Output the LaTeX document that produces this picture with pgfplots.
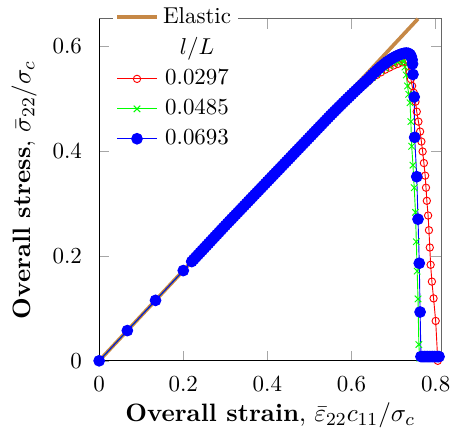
\documentclass[border=0pt]{standalone}
\usepackage{pgfplots}
\pgfplotsset{compat=1.18}
\definecolor{elastic}{RGB}{198,136,70}
\begin{document}
\begin{tikzpicture}
\begin{axis}[
  scale only axis,
  width=149pt, height=149pt,
  xmin=0, xmax=0.813, ymin=0, ymax=0.652,
  xtick={0,0.2,0.4,0.6,0.8},
  ytick={0,0.2,0.4,0.6},
  xticklabels={0,0.2,0.4,0.6,0.8},
  yticklabels={0,0.2,0.4,0.6},
  xticklabel shift=3pt, yticklabel shift=4pt,
  axis line style={black!60},
  major tick style={black!35},
  tick align=inside,
  clip=false,
  label style={font=\fontsize{10.95}{13.6}\selectfont},
  xlabel style={yshift=2pt},
  xlabel={\textbf{Overall strain}, $\bar{\varepsilon}_{22}c_{11}/\sigma_c$},
  ylabel={\textbf{Overall stress}, $\bar{\sigma}_{22}/\sigma_c$},
  legend cell align=center,
  legend style={at={(0.04,1.055)}, anchor=north west, draw=none, fill=white, inner sep=1pt, row sep=0.8pt},
]
\path ([xshift=-43.2pt,yshift=-31.3pt]rel axis cs:0,0) ([xshift=4.5pt,yshift=8.2pt]rel axis cs:1,1);
\draw[black] (rel axis cs:0,1) -- (rel axis cs:0,0) -- (rel axis cs:1,0);
\addplot[elastic, line width=1.6pt, mark=none] coordinates {(0,0) (0.758,0.652)};
\addlegendentry{Elastic}
\addlegendimage{empty legend}
\addlegendentry{$l/L$}
\addplot[red, mark=o, mark size=1.6pt, mark options={solid}] coordinates {
(0,0) (0.067,0.0576) (0.134,0.1152) (0.2,0.172)
(0.22,0.1892) (0.23,0.1978) (0.24,0.2064) (0.25,0.215) (0.26,0.2236) (0.27,0.2322) (0.28,0.2408) (0.29,0.2494)
(0.30,0.258) (0.31,0.2664) (0.32,0.2748) (0.33,0.2832) (0.34,0.2916) (0.35,0.300) (0.36,0.3084) (0.37,0.3168)
(0.38,0.3252) (0.39,0.3336) (0.40,0.342) (0.41,0.3504) (0.42,0.3588) (0.43,0.3672) (0.44,0.3756) (0.45,0.384)
(0.46,0.3924) (0.47,0.4008) (0.48,0.4092) (0.49,0.4176) (0.50,0.426) (0.51,0.434) (0.52,0.443) (0.53,0.451)
(0.54,0.459) (0.55,0.467) (0.56,0.475) (0.57,0.483) (0.58,0.491) (0.59,0.498) (0.60,0.506) (0.61,0.513)
(0.62,0.520) (0.63,0.527) (0.64,0.533) (0.65,0.540) (0.66,0.545) (0.67,0.550) (0.68,0.555) (0.69,0.559)
(0.70,0.563) (0.71,0.566) (0.72,0.569) (0.728,0.570)
(0.734,0.562) (0.738,0.550) (0.741,0.537) (0.744,0.524) (0.748,0.511) (0.752,0.494) (0.755,0.475)
(0.759,0.456) (0.763,0.437) (0.766,0.418) (0.769,0.399) (0.772,0.377) (0.775,0.353) (0.777,0.330)
(0.779,0.305) (0.782,0.277) (0.784,0.249) (0.786,0.216) (0.788,0.183) (0.791,0.151) (0.795,0.119)
(0.800,0.076) (0.805,0.0)
};
\addlegendentry{0.0297}
\addplot[green, mark=x, mark size=2pt, mark options={solid}] coordinates {
(0,0) (0.067,0.0576) (0.134,0.1152) (0.2,0.172)
(0.22,0.1892) (0.23,0.1978) (0.24,0.2064) (0.25,0.215) (0.26,0.2236) (0.27,0.2322) (0.28,0.2408) (0.29,0.2494)
(0.30,0.258) (0.31,0.2664) (0.32,0.2748) (0.33,0.2832) (0.34,0.2916) (0.35,0.300) (0.36,0.3084) (0.37,0.3168)
(0.38,0.3252) (0.39,0.3336) (0.40,0.342) (0.41,0.3504) (0.42,0.3588) (0.43,0.3672) (0.44,0.3756) (0.45,0.384)
(0.46,0.3924) (0.47,0.4008) (0.48,0.4092) (0.49,0.4176) (0.50,0.426) (0.51,0.434) (0.52,0.443) (0.53,0.451)
(0.54,0.460) (0.55,0.468) (0.56,0.476) (0.57,0.484) (0.58,0.492) (0.59,0.499) (0.60,0.507) (0.61,0.514)
(0.62,0.521) (0.63,0.528) (0.64,0.535) (0.65,0.541) (0.66,0.547) (0.67,0.553) (0.68,0.558) (0.69,0.563)
(0.70,0.567) (0.71,0.570) (0.72,0.572) (0.725,0.571)
(0.727,0.560) (0.730,0.545) (0.733,0.524) (0.736,0.508) (0.739,0.492) (0.741,0.456) (0.743,0.409)
(0.746,0.373) (0.749,0.330) (0.752,0.283) (0.754,0.227) (0.756,0.171) (0.758,0.118) (0.760,0.031) (0.762,0.005)
};
\addlegendentry{0.0485}
\addplot[blue, mark=*, mark size=2.35pt, mark options={solid}] coordinates {
(0,0) (0.067,0.0576) (0.134,0.1152) (0.2,0.172)
(0.220,0.1892) (0.225,0.1935) (0.230,0.1978) (0.235,0.2021) (0.240,0.2064) (0.245,0.2107) (0.250,0.2150)
(0.255,0.2193) (0.260,0.2236) (0.265,0.2279) (0.270,0.2322) (0.275,0.2365) (0.280,0.2408) (0.285,0.2451)
(0.290,0.2494) (0.295,0.2537) (0.300,0.2580) (0.305,0.2622) (0.310,0.2664) (0.315,0.2706) (0.320,0.2748)
(0.325,0.2790) (0.330,0.2832) (0.335,0.2874) (0.340,0.2916) (0.345,0.2958) (0.350,0.3000) (0.355,0.3042)
(0.360,0.3084) (0.365,0.3126) (0.370,0.3168) (0.375,0.3210) (0.380,0.3252) (0.385,0.3294) (0.390,0.3336)
(0.395,0.3378) (0.400,0.3420) (0.405,0.3462) (0.410,0.3504) (0.415,0.3546) (0.420,0.3588) (0.425,0.3630)
(0.430,0.3672) (0.435,0.3714) (0.440,0.3756) (0.445,0.3798) (0.450,0.3840) (0.455,0.3882) (0.460,0.3924)
(0.465,0.3966) (0.470,0.4008) (0.475,0.4050) (0.480,0.4092) (0.485,0.4134) (0.490,0.4176) (0.495,0.4218)
(0.500,0.4260) (0.505,0.4302) (0.510,0.4344) (0.515,0.4386) (0.520,0.4428) (0.525,0.4470) (0.530,0.4512)
(0.535,0.4554) (0.540,0.4596) (0.545,0.4638) (0.550,0.4680) (0.555,0.4720) (0.560,0.4760) (0.565,0.4800)
(0.570,0.4840) (0.575,0.4880) (0.580,0.4920) (0.585,0.4959) (0.590,0.4998) (0.595,0.5037) (0.600,0.5076)
(0.605,0.5115) (0.610,0.5153) (0.615,0.5191) (0.620,0.5229) (0.625,0.5266) (0.630,0.5303) (0.635,0.5340)
(0.640,0.5376) (0.645,0.5418) (0.650,0.5458) (0.655,0.5497) (0.660,0.5535) (0.665,0.5572) (0.670,0.5607)
(0.675,0.5641) (0.680,0.5673) (0.685,0.5703) (0.690,0.5731) (0.695,0.5757) (0.700,0.5781) (0.705,0.5803)
(0.710,0.5822) (0.715,0.5839) (0.720,0.5853) (0.725,0.5863) (0.730,0.5868) (0.735,0.5862) (0.739,0.5840)
(0.742,0.5800) (0.744,0.5740) (0.745,0.5660)
(0.746,0.546) (0.749,0.503) (0.750,0.426) (0.755,0.351) (0.758,0.270) (0.761,0.186) (0.763,0.093)
(0.765,0.008) (0.769,0.008) (0.773,0.008) (0.777,0.008) (0.781,0.008) (0.785,0.008) (0.789,0.008)
(0.793,0.008) (0.797,0.008) (0.801,0.008) (0.805,0.008) (0.808,0.008)
};
\addlegendentry{0.0693}
\end{axis}
\end{tikzpicture}
\end{document}
